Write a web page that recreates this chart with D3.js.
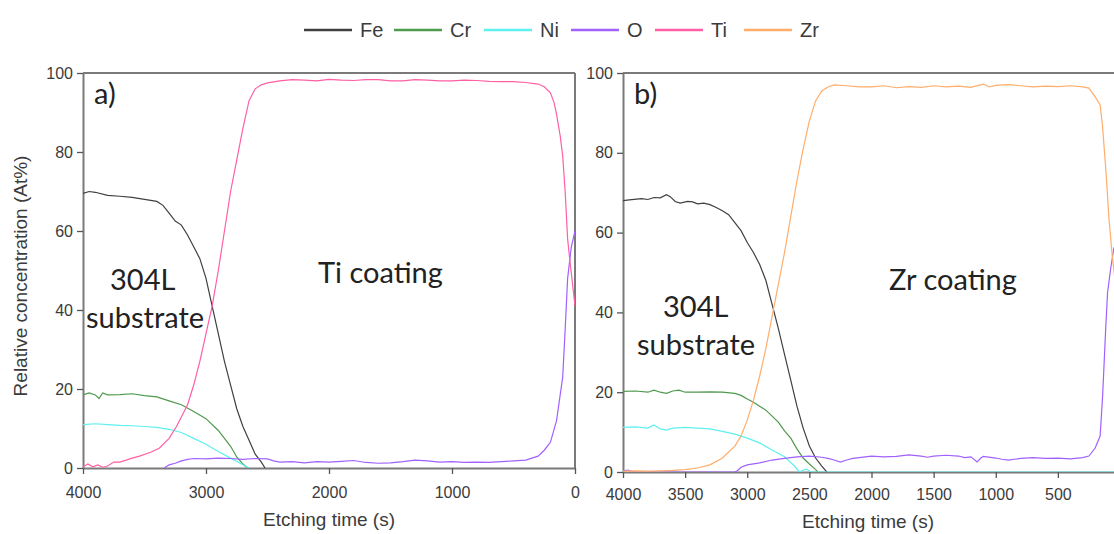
<!DOCTYPE html>
<html><head><meta charset="utf-8">
<script src="https://cdn.jsdelivr.net/npm/d3@7"></script>
<style>body{margin:0;background:#fff}</style>
</head><body>
<svg id="c" width="1114" height="534"></svg>
<script>
// ---------- DATA ----------
const elements = ["Fe","Cr","Ni","O","Ti","Zr"];
const colors   = ["#404040","#4e9a4e","#5ff0f0","#a061ff","#ff5fa5","#ffad6b"];
const xTicksA = [4000,3000,2000,1000,0];
const xTicksB = [4000,3500,3000,2500,2000,1500,1000,500];
const yTicks  = [0,20,40,60,80,100];

// Panel a) Ti coating  [etching time (s), at%]
const feA = [[4000,69.5],[3950,70],[3900,69.8],[3800,69],[3700,68.8],[3600,68.5],[3500,68],[3400,67.5],[3350,66.5],[3300,64.5],[3250,62.5],[3200,61.5],[3150,59],[3100,56],[3050,53],[3000,48],[2950,41],[2900,34],[2850,27],[2800,21],[2750,15],[2700,10.5],[2650,7],[2600,3.5],[2550,1.5],[2520,0]];
const crA = [[4000,18.5],[3950,19],[3900,18.5],[3870,17.6],[3840,19],[3800,18.5],[3700,18.6],[3600,18.8],[3500,18.3],[3400,18],[3300,17],[3200,16],[3100,14.3],[3000,12.5],[2900,9.5],[2850,7.5],[2800,5.5],[2750,2.8],[2700,1],[2660,0]];
const niA = [[4000,11],[3900,11.2],[3800,11],[3700,10.8],[3600,10.7],[3500,10.5],[3400,10.3],[3300,9.8],[3200,9],[3100,7.5],[3000,6],[2900,4.2],[2800,2.5],[2700,0.8],[2650,0]];
const oA  = [[3340,0],[3300,0.8],[3250,1.2],[3200,1.8],[3150,2.2],[3100,2.4],[3000,2.3],[2900,2.5],[2800,2.4],[2700,2.2],[2600,2.4],[2500,2.3],[2450,1.8],[2400,1.5],[2300,1.6],[2200,1.3],[2100,1.6],[2000,1.5],[1900,1.7],[1800,1.9],[1700,1.4],[1600,1.2],[1500,1.3],[1400,1.6],[1300,2.0],[1200,1.8],[1100,1.5],[1000,1.6],[900,1.4],[800,1.5],[700,1.4],[600,1.6],[500,1.8],[400,2.0],[350,2.5],[300,3.0],[250,4.5],[200,6.5],[150,12],[100,23],[80,35],[60,48],[30,56],[0,60]];
const tiA = [[4000,0.3],[3960,1],[3920,0.3],[3880,0.8],[3840,0.2],[3800,0.5],[3750,1.5],[3700,1.5],[3600,2.5],[3540,3],[3450,4],[3380,5],[3300,7.5],[3240,10.5],[3150,16],[3100,21],[3050,27],[3000,34],[2950,41],[2900,50],[2850,60],[2800,70],[2750,78],[2700,86],[2650,93],[2600,96],[2550,97],[2500,97.5],[2400,98],[2300,98.3],[2200,98.2],[2100,98],[2000,98.4],[1900,98.2],[1800,98.1],[1700,98.3],[1600,98.3],[1500,98],[1400,98],[1300,98.3],[1200,98.2],[1100,98],[1000,98],[900,98.2],[800,98.1],[700,97.9],[600,97.8],[500,97.8],[400,97.6],[300,97.2],[250,96.5],[200,95],[170,92.5],[150,89.5],[120,84],[100,79],[80,70],[60,58],[40,52],[25,48],[0,41]];

// Panel b) Zr coating
const feB = [[4000,68],[3950,68.2],[3850,68.5],[3800,68.3],[3750,68.8],[3700,68.7],[3650,69.5],[3620,69],[3580,67.8],[3540,67.4],[3480,67.8],[3440,67.7],[3400,67.2],[3350,67.4],[3300,67],[3250,66.3],[3200,65.5],[3150,64.5],[3100,62.5],[3050,60.5],[3000,57.5],[2950,55],[2900,52],[2850,48],[2800,42],[2750,36],[2700,29.5],[2650,23],[2600,16.5],[2550,11],[2500,6.5],[2450,3.5],[2400,1.5],[2360,0]];
const crB = [[4000,20.2],[3900,20.3],[3800,20],[3750,20.5],[3700,20],[3650,19.7],[3600,20.3],[3550,20.5],[3500,20],[3400,20],[3300,20.1],[3200,20],[3100,19.7],[3050,19.2],[3000,18.3],[2950,17.5],[2900,16.5],[2850,15.5],[2800,14],[2750,12.5],[2700,10.3],[2650,8.5],[2600,5.8],[2550,3.5],[2500,2],[2450,0.6],[2430,0]];
const niB = [[4000,11.2],[3900,11.3],[3800,11],[3750,11.8],[3700,10.8],[3650,10.5],[3600,11],[3500,11.2],[3400,11],[3300,10.8],[3200,10.2],[3100,9.5],[3000,8.5],[2900,7.3],[2800,5.5],[2700,3.8],[2620,1.5],[2580,0],[2550,0.5],[2520,0.7],[2490,0],[2000,0],[1000,0],[0,0]];
const oB  = [[4000,0.3],[3960,0.5],[3930,0.2],[3900,0],[3500,0],[3100,0],[3080,0.3],[3050,1.2],[3000,1.8],[2900,2.3],[2800,3],[2700,3.4],[2600,3.8],[2500,4],[2400,3.7],[2350,3.4],[2300,3],[2250,2.5],[2200,3],[2150,3.4],[2100,3.6],[2000,4],[1900,3.8],[1800,3.9],[1700,4.3],[1600,4],[1550,3.7],[1500,4],[1400,4.2],[1300,4],[1250,3.6],[1200,3.8],[1150,2.5],[1120,3.5],[1100,3.9],[1000,3.5],[950,3.2],[900,3.0],[800,3.4],[700,3.6],[600,3.4],[500,3.5],[400,3.3],[300,3.6],[250,4],[200,6],[160,9],[140,19],[115,36],[100,45],[75,51],[50,56],[0,60]];
const zrB = [[4000,0.2],[3900,0.3],[3800,0.2],[3700,0.3],[3600,0.4],[3500,0.6],[3400,1],[3300,1.8],[3200,3.5],[3100,6.5],[3050,9],[3000,13],[2950,18],[2900,24],[2850,31],[2800,39],[2750,47],[2700,55],[2650,64],[2600,73],[2550,81],[2500,88],[2450,93],[2400,95.5],[2350,96.5],[2300,97],[2200,96.8],[2100,96.5],[2000,96.5],[1900,96.8],[1800,96.3],[1700,96.6],[1600,96.4],[1500,96.8],[1400,96.5],[1300,96.7],[1200,96.4],[1100,97.2],[1050,96.5],[1000,96.9],[900,97.1],[800,96.8],[700,96.5],[600,96.7],[500,96.6],[400,96.8],[300,96.5],[250,96.2],[200,94],[160,92],[140,86.5],[110,74],[90,64],[65,55],[40,48],[0,36]];

const seriesA = [[feA,0],[crA,1],[niA,2],[oA,3],[tiA,4]];
const seriesB = [[feB,0],[crB,1],[niB,2],[oB,3],[zrB,5]];

// ---------- DRAW ----------
const svg = d3.select("#c");
const AX = "#7a7a7a";
const TXT = "#3b3b3b";
const tickFont = "'Liberation Sans', Arial, sans-serif";

function panel(id, xr, yr, xTicks, series, labelY) {
  const x = d3.scaleLinear().domain([4000,0]).range(xr);
  const y = d3.scaleLinear().domain([0,100]).range(yr);
  const g = svg.append("g");
  g.append("clipPath").attr("id", id).append("rect")
    .attr("x", xr[0]).attr("y", yr[1]-2).attr("width", Math.min(xr[1],1114)-xr[0]).attr("height", yr[0]-yr[1]+2);
  // frame
  g.append("line").attr("x1", xr[0]).attr("x2", xr[1]).attr("y1", yr[1]).attr("y2", yr[1])
    .attr("stroke", AX).attr("stroke-width", 2);
  g.append("line").attr("x1", xr[1]).attr("x2", xr[1]).attr("y1", yr[1]).attr("y2", yr[0])
    .attr("stroke", AX).attr("stroke-width", 2);
  const xa = g.append("g").attr("transform", `translate(0,${yr[0]})`)
    .call(d3.axisBottom(x).tickValues(xTicks).tickFormat(d3.format("d")).tickSize(6).tickSizeOuter(0).tickPadding(labelY));
  const ya = g.append("g").attr("transform", `translate(${xr[0]},0)`)
    .call(d3.axisLeft(y).tickValues(yTicks).tickSize(6).tickSizeOuter(0).tickPadding(4));
  [xa, ya].forEach(a => {
    a.select(".domain").attr("stroke", AX).attr("stroke-width", 2);
    a.selectAll(".tick line").attr("stroke", "#555").attr("stroke-width", 1.3);
    a.selectAll(".tick text").attr("fill", TXT).style("font-family", tickFont).style("font-size", "16px");
  });
  const line = d3.line().x(d => x(d[0])).y(d => y(d[1]));
  const lg = g.append("g").attr("clip-path", `url(#${id})`);
  series.forEach(([data, ci]) => {
    lg.append("path").datum(data).attr("d", line).attr("fill", "none")
      .attr("stroke", colors[ci]).attr("stroke-width", 1.2);
  });
  return {x, y, g};
}

const A = panel("clipA", [83, 575], [468, 73], xTicksA, seriesA, 13);
const B = panel("clipB", [623, 1120], [472, 73], xTicksB, seriesB, 11);

// axis titles
const titleFont = "'Liberation Sans', Arial, sans-serif";
svg.append("text").attr("x", 329).attr("y", 526).attr("text-anchor", "middle")
  .attr("fill", TXT).style("font-family", titleFont).style("font-size", "19px").text("Etching time (s)");
svg.append("text").attr("x", 868).attr("y", 528).attr("text-anchor", "middle")
  .attr("fill", TXT).style("font-family", titleFont).style("font-size", "19px").text("Etching time (s)");
svg.append("text").attr("transform", "translate(27,276) rotate(-90)").attr("text-anchor", "middle")
  .attr("fill", TXT).style("font-family", titleFont).style("font-size", "19px").text("Relative concentration (At%)");

// annotations
const annFont = "Lato, 'Open Sans', sans-serif";
const ann = [
  ["a)", 94, 104], ["304L", 110, 290], ["substrate", 86, 328], ["Ti coating", 318, 283],
  ["b)", 634, 104], ["304L", 663, 317], ["substrate", 637, 355], ["Zr coating", 889, 290]
];
svg.selectAll("text.ann").data(ann).join("text").attr("class", "ann")
  .attr("x", d => d[1]).attr("y", d => d[2]).attr("fill", "#222")
  .style("font-family", annFont).style("font-size", "29px").text(d => d[0]);

// legend
const legX = [304, 394, 484, 571, 655, 744];
const lg = svg.append("g");
elements.forEach((e, i) => {
  lg.append("line").attr("x1", legX[i]).attr("x2", legX[i] + 48).attr("y1", 30).attr("y2", 30)
    .attr("stroke", colors[i]).attr("stroke-width", 2.5);
  lg.append("text").attr("x", legX[i] + 56).attr("y", 37).attr("fill", TXT)
    .style("font-family", tickFont).style("font-size", "20px").text(e);
});
</script>
</body></html>
